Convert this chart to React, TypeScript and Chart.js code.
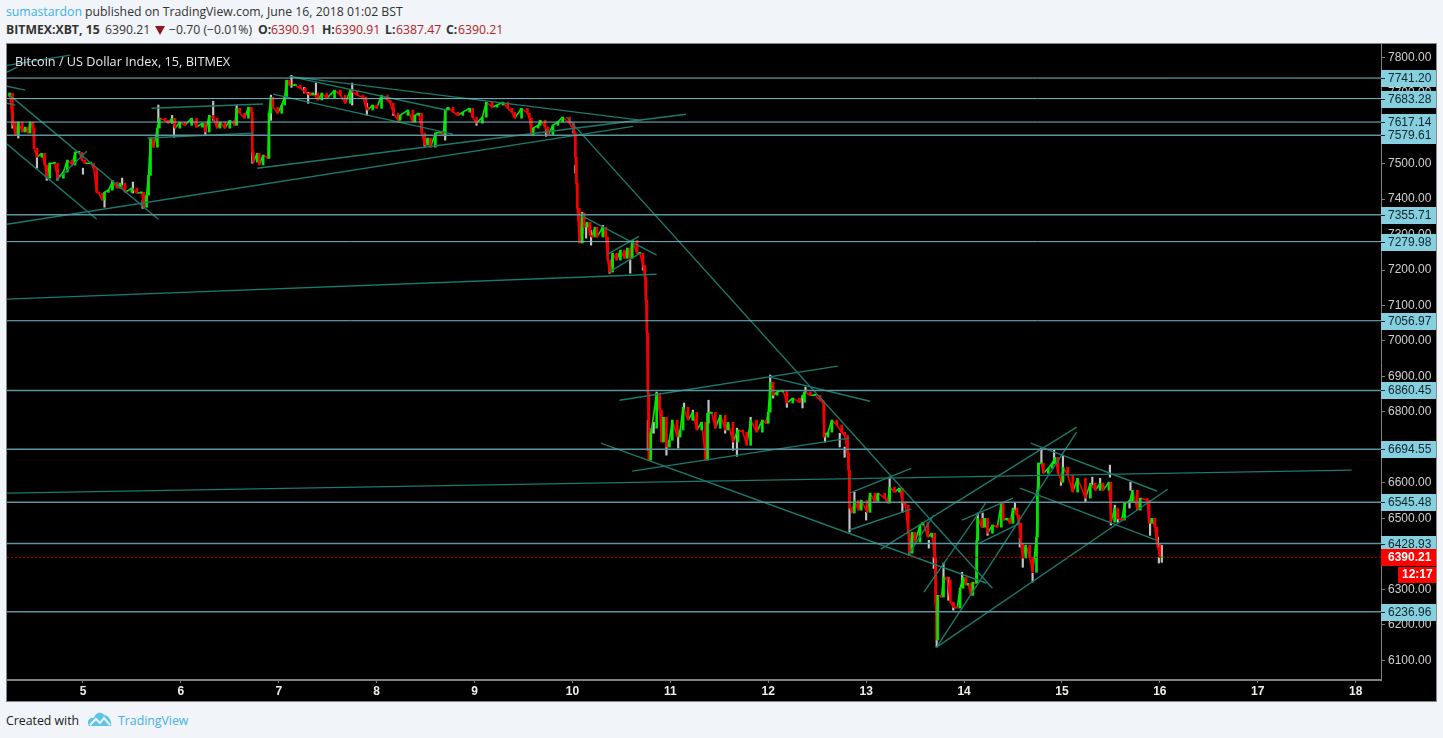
import React, { useEffect, useRef } from "react";
import { Chart, registerables } from "chart.js";

Chart.register(...registerables);

const candleDays = [4.25,4.28,4.31,4.34,4.38,4.41,4.44,4.46,4.49,4.50,4.53,4.58,4.61,4.63,4.66,4.71,4.74,4.80,4.84,4.89,4.92,4.96,4.99,5.02,5.08,5.11,5.14,5.16,5.20,5.22,5.26,5.30,5.35,5.38,5.43,5.50,5.55,5.60,5.62,5.65,5.67,5.69,5.72,5.76,5.78,5.84,5.87,5.91,5.94,5.99,6.04,6.11,6.16,6.22,6.25,6.29,6.33,6.37,6.40,6.45,6.50,6.55,6.57,6.60,6.65,6.69,6.72,6.73,6.74,6.78,6.80,6.84,6.89,6.90,6.92,6.94,6.99,7.03,7.06,7.08,7.11,7.17,7.22,7.27,7.32,7.35,7.40,7.44,7.49,7.57,7.63,7.68,7.73,7.80,7.86,7.89,7.91,7.96,8.00,8.05,8.11,8.14,8.17,8.22,8.24,8.32,8.37,8.39,8.43,8.46,8.49,8.52,8.55,8.60,8.65,8.68,8.70,8.73,8.78,8.83,8.88,8.95,8.98,9.02,9.08,9.12,9.18,9.23,9.29,9.34,9.38,9.41,9.48,9.54,9.56,9.58,9.60,9.65,9.67,9.72,9.75,9.80,9.85,9.90,9.97,10.01,10.02,10.03,10.04,10.05,10.07,10.10,10.12,10.15,10.18,10.20,10.23,10.25,10.31,10.34,10.36,10.38,10.41,10.45,10.49,10.53,10.56,10.59,10.61,10.66,10.69,10.72,10.74,10.75,10.76,10.77,10.78,10.80,10.81,10.86,10.89,10.91,10.93,10.96,10.99,11.02,11.07,11.10,11.13,11.18,11.23,11.27,11.32,11.36,11.38,11.42,11.46,11.51,11.56,11.59,11.64,11.69,11.74,11.78,11.82,11.88,11.94,11.98,12.00,12.02,12.05,12.09,12.15,12.19,12.25,12.32,12.37,12.43,12.48,12.53,12.56,12.57,12.61,12.65,12.70,12.75,12.78,12.81,12.82,12.83,12.86,12.88,12.92,12.95,13.01,13.04,13.09,13.12,13.19,13.22,13.24,13.29,13.34,13.37,13.40,13.43,13.44,13.47,13.50,13.55,13.58,13.63,13.67,13.70,13.71,13.72,13.73,13.77,13.79,13.83,13.86,13.89,13.93,13.96,13.99,14.02,14.04,14.07,14.09,14.12,14.13,14.14,14.18,14.21,14.24,14.29,14.34,14.38,14.40,14.44,14.47,14.50,14.54,14.56,14.58,14.60,14.63,14.67,14.70,14.74,14.75,14.76,14.79,14.81,14.86,14.90,14.93,14.96,15.00,15.01,15.06,15.11,15.16,15.24,15.29,15.34,15.39,15.42,15.48,15.50,15.54,15.57,15.61,15.64,15.69,15.72,15.77,15.80,15.87,15.89,15.92,15.95,15.97,16.00,16.02];
const candleCloses = [7699,7617,7580,7617,7589,7603,7586,7617,7600,7543,7518,7529,7496,7459,7501,7501,7459,7476,7510,7496,7532,7532,7510,7501,7501,7487,7419,7417,7397,7419,7425,7448,7431,7445,7419,7431,7417,7419,7377,7411,7467,7572,7546,7600,7628,7622,7614,7628,7600,7617,7608,7628,7603,7614,7589,7636,7628,7600,7617,7600,7622,7608,7656,7642,7628,7659,7645,7532,7504,7529,7496,7524,7515,7642,7687,7659,7642,7665,7687,7735,7721,7721,7713,7701,7693,7699,7679,7699,7684,7707,7693,7670,7707,7693,7687,7659,7651,7665,7656,7693,7679,7670,7642,7622,7636,7651,7617,7636,7642,7586,7552,7572,7546,7586,7589,7580,7651,7659,7645,7636,7645,7656,7631,7614,7631,7673,7659,7665,7673,7656,7645,7628,7656,7642,7628,7580,7600,7608,7622,7603,7580,7608,7617,7631,7614,7594,7586,7518,7445,7374,7276,7360,7321,7335,7298,7293,7321,7293,7321,7293,7228,7194,7247,7228,7256,7233,7262,7233,7284,7247,7247,7214,7180,7115,7022,6853,6664,6740,6754,6853,6805,6715,6785,6701,6720,6777,6729,6749,6813,6777,6799,6749,6771,6664,6796,6799,6754,6791,6749,6771,6715,6749,6743,6706,6777,6743,6777,6768,6799,6884,6847,6856,6861,6825,6839,6827,6856,6847,6847,6833,6825,6729,6743,6777,6763,6743,6734,6684,6636,6531,6515,6551,6523,6551,6517,6571,6546,6571,6557,6543,6588,6574,6585,6546,6537,6458,6402,6461,6433,6481,6489,6447,6458,6388,6261,6157,6283,6278,6334,6326,6264,6250,6247,6303,6334,6312,6317,6283,6320,6317,6438,6500,6475,6500,6458,6481,6475,6543,6495,6500,6486,6529,6509,6486,6430,6388,6424,6390,6348,6447,6579,6655,6655,6627,6641,6655,6672,6627,6602,6644,6622,6574,6613,6557,6599,6579,6599,6579,6602,6489,6529,6500,6495,6543,6546,6579,6523,6557,6551,6486,6500,6475,6430,6390,6390.21];

const wickDays = [4.28,4.34,4.53,4.63,4.74,5.00,5.22,5.30,5.40,5.51,5.61,5.77,5.91,5.93,6.25,6.33,6.57,6.73,6.92,7.13,7.26,7.30,7.38,7.75,7.90,8.17,8.49,8.70,9.02,9.73,10.01,10.03,10.10,10.14,10.19,10.31,10.38,10.59,10.61,10.72,10.77,10.83,10.86,10.96,11.08,11.14,11.23,11.39,11.56,11.64,11.68,11.82,12.02,12.05,12.19,12.35,12.38,12.58,12.73,12.78,12.83,12.88,13.00,13.24,13.37,13.44,13.64,13.69,13.72,13.79,13.84,13.89,13.98,14.14,14.19,14.24,14.52,14.57,14.60,14.70,14.76,14.79,14.92,15.01,14.99,15.24,15.31,15.39,15.49,15.50,15.54,15.57,15.69,15.70,15.90,15.98,15.99,16.02];
const wickHighs = [7645,7617,7543,7481,7481,7487,7403,7453,7459,7448,7397,7665,7636,7608,7603,7676,7665,7538,7693,7749,7715,7701,7727,7727,7670,7656,7580,7651,7622,7597,7614,7496,7363,7321,7312,7326,7219,7228,7284,7228,6777,6771,6856,6712,6740,6825,6805,6833,6757,6720,6754,6785,6904,6853,6842,6847,6870,6740,6740,6701,6529,6574,6517,6616,6543,6438,6438,6390,6157,6374,6334,6261,6348,6515,6515,6467,6543,6444,6388,6345,6655,6698,6692,6678,6607,6560,6616,6613,6650,6495,6537,6503,6551,6602,6486,6447,6390,6424];
const wickLows = [7600,7572,7487,7453,7453,7470,7377,7431,7439,7417,7374,7617,7614,7574,7580,7622,7622,7501,7622,7715,7699,7670,7693,7665,7636,7636,7549,7566,7608,7577,7586,7473,7304,7290,7270,7312,7191,7191,7264,7200,6692,6740,6805,6678,6698,6805,6777,6768,6740,6692,6675,6743,6881,6839,6813,6811,6853,6715,6701,6672,6461,6551,6495,6571,6517,6396,6416,6359,6137,6317,6269,6241,6306,6472,6475,6452,6523,6419,6362,6320,6593,6655,6655,6641,6593,6546,6593,6588,6616,6481,6495,6489,6529,6579,6452,6419,6374,6376];

const levelPrices = [7741.2,7683.28,7617.14,7579.61,7355.71,7279.98,7056.97,6860.45,6694.55,6545.48,6428.93,6236.96];
const levelBright = [true,true,true,false,false,true,true,false,false,false,false,false];
const lastPrice = 6390.21;
const firstOpen = 7690;
const countdown = "12:17";
const priceTicks = [6100,6200,6300,6400,6500,6600,6700,6800,6900,7000,7100,7200,7300,7400,7500,7600,7700,7800];
const dayTicks = [5,6,7,8,9,10,11,12,13,14,15,16,17,18];

const trendFromDay = [4.224,4.224,4.224,4.224,4.25,4.224,4.73,4.224,6.78,5.70,5.66,7.11,6.94,7.11,9.94,10.10,10.36,10.39,4.224,10.48,10.61,12.02,10.29,4.224,12.83,12.83,13.15,13.43,13.59,13.72,13.72,13.98,14.11,14.68,14.57];
const trendFromPrice = [7777,7758,7718,7670,7693,7555,7453,7329,7487,7656,7572,7746,7696,7746,7631,7352,7245,7197,7118,6833,6633,6898,6712,6571,6571,6467,6413,6396,6292,6137,6137,6495,6424,6712,6585];
const trendToDay = [4.87,4.33,4.41,4.31,5.77,5.14,5.04,10.62,11.16,6.84,6.74,10.71,8.78,8.71,14.29,10.86,10.68,10.69,10.86,12.71,12.83,13.04,14.23,17.96,13.46,13.46,15.15,13.69,14.22,15.15,16.08,14.50,14.57,15.97,15.97];
const trendToPrice = [7806,7772,7707,7665,7343,7343,7535,7605,7639,7668,7586,7622,7583,7651,6303,7242,7295,7247,7188,6929,6726,6830,6317,6636,6641,6526,6757,6509,6543,6743,6582,6557,6486,6577,6438];

const X_MIN = 4.224;
const X_MAX = 18.259;
const Y_MIN = 6044.2;
const Y_MAX = 7837.2;

const UP = "#00e800";
const DOWN = "#f40000";

const tagsPlugin = {
  id: "priceTags",
  afterDraw(chart: any) {
    const { ctx, scales, chartArea } = chart;
    const y = scales.y;
    const left = chartArea.right;
    const w = 55;
    ctx.save();
    ctx.font = "12px 'Liberation Sans'";
    ctx.textBaseline = "middle";
    ctx.textAlign = "left";
    levelPrices.forEach((p) => {
      const py = Math.round(y.getPixelForValue(p));
      ctx.fillStyle = "#86cfde";
      ctx.fillRect(left, py - 8, w, 17);
    });
    levelPrices.forEach((p) => {
      const py = Math.round(y.getPixelForValue(p));
      ctx.fillStyle = "#10262c";
      ctx.fillRect(left, py, 4, 1);
      ctx.fillText(p.toFixed(2), left + 7, py + 1);
    });
    const py = Math.round(y.getPixelForValue(lastPrice));
    ctx.fillStyle = "#ff0000";
    ctx.fillRect(left, py - 8, w, 17);
    ctx.fillRect(left + 17, py + 10, w - 17, 16);
    ctx.fillStyle = "#ffffff";
    ctx.font = "bold 12px 'Liberation Sans'";
    ctx.fillText(lastPrice.toFixed(2), left + 7, py + 1);
    ctx.fillText(countdown, left + 21, py + 18);
    ctx.restore();
  },
};

const noPadding = (s: any) => {
  s.paddingTop = 0;
  s.paddingBottom = 0;
  s.paddingLeft = 0;
  s.paddingRight = 0;
};

export default function App() {
  const ref = useRef<HTMLCanvasElement>(null);
  useEffect(() => {
    document.body.style.margin = "0";
    document.body.style.background = "#f1f4f8";
    const opens = candleCloses.map((_, i) => (i === 0 ? firstOpen : candleCloses[i - 1]));
    const datasets: any[] = [];
    datasets.push({
      type: "bar",
      order: 6,
      data: wickDays.map((d, i) => ({ x: d, y: [wickLows[i], wickHighs[i]] })),
      backgroundColor: "#c4c4c4",
      barThickness: 1.5,
      grouped: false,
    });
    datasets.push({
      type: "line",
      order: 5,
      data: candleDays.map((d, i) => ({ x: d, y: candleCloses[i] })),
      borderWidth: 1.6,
      pointRadius: 0,
      segment: {
        borderColor: (c: any) => (c.p1.parsed.y >= c.p0.parsed.y ? UP : DOWN),
      },
    });
    datasets.push({
      type: "bar",
      order: 4,
      data: candleDays.map((d, i) => ({ x: d, y: [opens[i], candleCloses[i]] })),
      backgroundColor: candleDays.map((_, i) => (candleCloses[i] >= opens[i] ? UP : DOWN)),
      barThickness: 2,
      minBarLength: 1,
      grouped: false,
    });
    levelPrices.forEach((p, i) => {
      datasets.push({
        type: "line",
        order: 2,
        data: [
          { x: X_MIN, y: p },
          { x: X_MAX, y: p },
        ],
        borderColor: levelBright[i] ? "#76bcc8" : "#5a969f",
        borderWidth: levelBright[i] ? 1 : 1.5,
        pointRadius: 0,
      });
    });
    datasets.push({
      type: "line",
      order: 1,
      data: [
        { x: X_MIN, y: lastPrice },
        { x: X_MAX, y: lastPrice },
      ],
      borderColor: "#c00000",
      borderWidth: 1,
      borderDash: [2, 2],
      pointRadius: 0,
    });
    trendFromDay.forEach((d, i) => {
      datasets.push({
        type: "line",
        order: 3,
        data: [
          { x: d, y: trendFromPrice[i] },
          { x: trendToDay[i], y: trendToPrice[i] },
        ],
        borderColor: "#1a7a6c",
        borderWidth: 1.4,
        pointRadius: 0,
      });
    });
    const chart = new Chart(ref.current as HTMLCanvasElement, {
      type: "bar",
      data: { datasets },
      plugins: [tagsPlugin],
      options: {
        animation: false,
        responsive: false,
        maintainAspectRatio: false,
        layout: { padding: 0 },
        plugins: { legend: { display: false }, tooltip: { enabled: false }, title: { display: false } },
        scales: {
          x: {
            type: "linear",
            min: X_MIN,
            max: X_MAX,
            offset: false,
            position: "bottom",
            afterBuildTicks(s: any) {
              s.ticks = dayTicks.map((v) => ({ value: v }));
            },
            afterFit(s: any) {
              s.height = 21;
              noPadding(s);
            },
            grid: { display: true, drawOnChartArea: false, drawTicks: true, tickLength: 3, offset: false, color: "#808080" },
            border: { color: "#808080", width: 2 },
            ticks: {
              color: "#eeeeee",
              font: { family: "'Liberation Sans'", size: 12, weight: "bold" },
              maxRotation: 0,
              autoSkip: false,
              padding: 1,
              callback: (v: any) => String(v),
            },
          },
          y: {
            type: "linear",
            position: "right",
            min: Y_MIN,
            max: Y_MAX,
            afterBuildTicks(s: any) {
              s.ticks = priceTicks.map((v) => ({ value: v }));
            },
            afterFit(s: any) {
              s.width = 55;
              noPadding(s);
            },
            grid: { display: true, drawOnChartArea: false, drawTicks: true, tickLength: 4, color: "#808080" },
            border: { color: "#808080", width: 1 },
            ticks: {
              color: "#cfcfcf",
              font: { family: "'Liberation Sans'", size: 12 },
              autoSkip: false,
              padding: 3,
              callback: (v: any) => Number(v).toFixed(2),
            },
          },
        },
      } as any,
    });
    return () => chart.destroy();
  }, []);

  const headFont = "'Open Sans', sans-serif";
  const at = (left: number, extra: any = {}) => ({ position: "absolute" as const, left, top: 21, whiteSpace: "nowrap" as const, ...extra });
  const red = { color: "#b22222" };
  return (
    <div style={{ position: "absolute", left: 0, top: 0, width: 1443, height: 738, background: "#f1f4f8", overflow: "hidden", fontFamily: headFont, fontSize: 12.25, color: "#333" }}>
      <div style={{ position: "absolute", left: 6, top: 3, whiteSpace: "nowrap" }}>
        <span style={{ color: "#3bb3e4" }}>sumastardon</span> published on TradingView.com, June 16, 2018 01:02 BST
      </div>
      <b style={at(6)}>BITMEX:XBT, 15</b>
      <span style={at(105)}>6390.21</span>
      <div style={{ position: "absolute", left: 155, top: 26, width: 0, height: 0, borderLeft: "5px solid transparent", borderRight: "5px solid transparent", borderTop: "9px solid #8b1a1a" }} />
      <span style={at(169)}>−0.70 (−0.01%)</span>
      <b style={at(258)}>O:</b>
      <span style={at(271, red)}>6390.91</span>
      <b style={at(322)}>H:</b>
      <span style={at(335, red)}>6390.91</span>
      <b style={at(385)}>L:</b>
      <span style={at(396, red)}>6387.47</span>
      <b style={at(446)}>C:</b>
      <span style={at(458, red)}>6390.21</span>
      <div style={{ position: "absolute", left: 6, top: 43, width: 1429, height: 657, background: "#000", border: "1px solid #888", boxSizing: "content-box" }}>
        <canvas ref={ref} width={1429} height={657} style={{ display: "block", width: 1429, height: 657 }} />
      </div>
      <div style={{ position: "absolute", left: 15, top: 52, color: "#e8e8e8", fontSize: 12.7, whiteSpace: "nowrap" }}>
        Bitcoin / US Dollar Index, 15, BITMEX
      </div>
      <div style={{ position: "absolute", left: 6, top: 712, color: "#222", fontSize: 12.3, whiteSpace: "nowrap" }}>Created with</div>
      <svg style={{ position: "absolute", left: 87, top: 710 }} width="26" height="18" viewBox="0 0 26 18">
        <path d="M2 16 C-1 11 3 7 7 8 C8 3 14 1 17 5 C21 5 25 10 24 16 Z" fill="#5cc4ea" />
        <path d="M3 15 L9 9 L13 13 L17 8 L23 15" fill="none" stroke="#f1f4f8" strokeWidth="2" />
      </svg>
      <div style={{ position: "absolute", left: 118, top: 712, color: "#45b0e6", fontSize: 12.3, whiteSpace: "nowrap" }}>TradingView</div>
    </div>
  );
}
